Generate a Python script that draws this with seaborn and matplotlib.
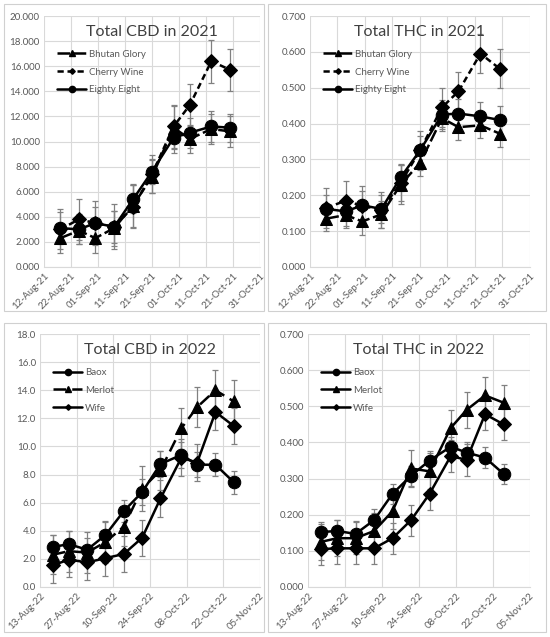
import numpy as np
import pandas as pd
import seaborn as sns
import matplotlib.pyplot as plt
import matplotlib.dates as mdates
from matplotlib.patches import Rectangle
from matplotlib.lines import Line2D

# ---- data ----
dates21 = ["2021-08-18", "2021-08-25", "2021-08-31", "2021-09-07", "2021-09-14",
           "2021-09-21", "2021-09-29", "2021-10-05", "2021-10-13", "2021-10-20"]
dates22 = ["2022-08-18", "2022-08-24", "2022-08-31", "2022-09-07", "2022-09-14",
           "2022-09-21", "2022-09-28", "2022-10-06", "2022-10-12", "2022-10-19",
           "2022-10-26"]

cbd21_bhutan = [2.3, 2.9, 2.3, 3.1, 4.9, 7.2, 11.1, 10.2, 11.0, 10.8]
cbd21_bhutan_sd = [1.2, 1.1, 1.2, 1.4, 1.7, 1.3, 1.7, 1.1, 1.2, 1.2]
cbd21_cherry = [3.0, 3.8, 3.5, 3.2, 4.8, 7.4, 11.2, 12.9, 16.4, 15.7]
cbd21_cherry_sd = [1.6, 1.65, 1.75, 1.8, 1.7, 1.5, 1.7, 1.7, 1.7, 1.7]
cbd21_eighty = [3.1, 3.0, 3.5, 3.2, 5.4, 7.6, 10.3, 10.7, 11.2, 11.1]
cbd21_eighty_sd = [1.3, 1.2, 1.3, 1.3, 1.1, 1.0, 1.2, 1.2, 1.2, 1.1]

thc21_bhutan = [0.135, 0.145, 0.127, 0.147, 0.23, 0.29, 0.415, 0.39, 0.395, 0.372]
thc21_bhutan_sd = [0.035, 0.035, 0.038, 0.038, 0.055, 0.035, 0.035, 0.037, 0.035, 0.037]
thc21_cherry = [0.165, 0.185, 0.17, 0.16, 0.235, 0.325, 0.445, 0.49, 0.595, 0.553]
thc21_cherry_sd = [0.055, 0.055, 0.055, 0.05, 0.05, 0.055, 0.055, 0.055, 0.055, 0.055]
thc21_eighty = [0.162, 0.155, 0.172, 0.162, 0.25, 0.325, 0.425, 0.428, 0.42, 0.41]
thc21_eighty_sd = [0.04, 0.04, 0.04, 0.04, 0.038, 0.04, 0.04, 0.04, 0.04, 0.04]

cbd22_baox = [2.85, 3.05, 2.65, 3.7, 5.4, 6.75, 8.75, 9.4, 8.7, 8.7, 7.45]
cbd22_baox_sd = [0.85, 0.9, 0.85, 0.9, 0.8, 0.9, 0.95, 0.9, 0.9, 0.8, 0.8]
cbd22_merlot = [2.3, 2.55, 2.45, 3.2, 4.3, 7.0, 8.3, 11.3, 12.8, 14.0, 13.2]
cbd22_merlot_sd = [1.4, 1.45, 1.45, 1.5, 1.4, 1.6, 1.4, 1.45, 1.45, 1.45, 1.5]
cbd22_wife = [1.55, 1.95, 1.75, 2.05, 2.35, 3.5, 6.3, 9.2, 8.85, 12.45, 11.45]
cbd22_wife_sd = [1.25, 1.25, 1.25, 1.25, 1.25, 1.3, 1.3, 1.3, 1.3, 1.3, 1.25]

thc22_baox = [0.152, 0.155, 0.147, 0.185, 0.258, 0.308, 0.35, 0.388, 0.372, 0.358, 0.313]
thc22_baox_sd = [0.028, 0.03, 0.035, 0.03, 0.028, 0.028, 0.027, 0.028, 0.028, 0.028, 0.028]
thc22_merlot = [0.125, 0.135, 0.135, 0.155, 0.21, 0.328, 0.32, 0.44, 0.49, 0.53, 0.51]
thc22_merlot_sd = [0.05, 0.05, 0.045, 0.05, 0.05, 0.05, 0.05, 0.05, 0.05, 0.05, 0.05]
thc22_wife = [0.105, 0.107, 0.107, 0.107, 0.135, 0.185, 0.258, 0.362, 0.352, 0.478, 0.45]
thc22_wife_sd = [0.043, 0.043, 0.043, 0.043, 0.043, 0.043, 0.045, 0.045, 0.045, 0.043, 0.043]

strains21 = ["Bhutan Glory", "Cherry Wine", "Eighty Eight"]
strains22 = ["Baox", "Merlot", "Wife"]


def make_df(dates, names, vals, sds):
    rows = []
    for n, v, s in zip(names, vals, sds):
        for d, y, e in zip(dates, v, s):
            rows.append({"date": pd.Timestamp(d), "strain": n, "value": y, "sd": e})
    return pd.DataFrame(rows)


df_cbd21 = make_df(dates21, strains21, [cbd21_bhutan, cbd21_cherry, cbd21_eighty],
                   [cbd21_bhutan_sd, cbd21_cherry_sd, cbd21_eighty_sd])
df_thc21 = make_df(dates21, strains21, [thc21_bhutan, thc21_cherry, thc21_eighty],
                   [thc21_bhutan_sd, thc21_cherry_sd, thc21_eighty_sd])
df_cbd22 = make_df(dates22, strains22, [cbd22_baox, cbd22_merlot, cbd22_wife],
                   [cbd22_baox_sd, cbd22_merlot_sd, cbd22_wife_sd])
df_thc22 = make_df(dates22, strains22, [thc22_baox, thc22_merlot, thc22_wife],
                   [thc22_baox_sd, thc22_merlot_sd, thc22_wife_sd])

sns.set_style("white")
plt.rcParams["font.family"] = ["Lato", "DejaVu Sans"]

grey_txt = "#595959"
grid_c = "#d9d9d9"

fig = plt.figure(figsize=(5.5, 6.37), dpi=100)

# panel frames (Excel chart areas)
for x0, y0, x1, y1 in [(4, 4, 264, 311), (268, 4, 546, 311),
                       (4, 323, 264, 632), (268, 323, 546, 632)]:
    fig.patches.append(Rectangle((x0 / 550, 1 - y1 / 637), (x1 - x0) / 550, (y1 - y0) / 637,
                                 transform=fig.transFigure, fill=False,
                                 edgecolor="#d0d0d0", linewidth=0.8))


def panel(rect, df, names, markers, dashes, small, title, ymax, ystep, yfmt,
          xstart, xend, xstep):
    ax = fig.add_axes(rect)
    sizes = {"o": 9, "^": 9, "D": 7.5}
    handles = []
    for n, m, d, sm in zip(names, markers, dashes, small):
        sub = df[df["strain"] == n]
        sns.lineplot(data=sub, x="date", y="value", color="black", marker=m,
                     markersize=sizes[m], markeredgecolor="black", linewidth=1.8,
                     dashes=d, ax=ax, errorbar=None, legend=False)
        ax.errorbar(sub["date"], sub["value"], yerr=sub["sd"], fmt="none",
                    ecolor="#808080", elinewidth=0.9, capsize=2.5, capthick=0.9, zorder=1)
        # legend key: Excel draws the key markers smaller than the plotted ones
        h = Line2D([], [], color="black", linewidth=1.8, marker=m,
                   markersize=2.8 if sm else 4.5, label=n)
        if d:
            h.set_dashes(d)
        handles.append(h)
    ax.set_ylim(0, ymax)
    ax.set_yticks(np.arange(0, ymax + ystep / 2, ystep))
    ax.yaxis.set_major_formatter(plt.FormatStrFormatter(yfmt))
    x0 = pd.Timestamp(xstart)
    x1 = pd.Timestamp(xend)
    ax.set_xlim(x0, x1)
    ax.set_xticks(pd.date_range(x0, x1, freq=f"{xstep}D"))
    ax.xaxis.set_major_formatter(mdates.DateFormatter("%d-%b-%y"))
    plt.setp(ax.get_xticklabels(), rotation=45, ha="right", rotation_mode="anchor")
    ax.tick_params(labelsize=7, colors=grey_txt, length=0, pad=3)
    ax.grid(True, color=grid_c, linewidth=0.8)
    ax.set_axisbelow(True)
    for s in ["top", "right", "left"]:
        ax.spines[s].set_visible(False)
    ax.spines["bottom"].set_color(grid_c)
    ax.set_xlabel("")
    ax.set_ylabel("")
    ax.text(0.5, 0.965, title, transform=ax.transAxes, ha="center", va="top",
            fontsize=11.5, color="#404040")
    ax.legend(handles=handles, loc="upper left", bbox_to_anchor=(0.02, 0.9),
              frameon=False, fontsize=7, labelcolor=grey_txt, handlelength=3.0,
              labelspacing=0.9, handletextpad=0.3)
    return ax


panel([44 / 550, 1 - 267 / 637, 216 / 550, 251 / 637], df_cbd21, strains21,
      ["^", "D", "o"], [(5, 1.5), (2.5, 1.5), ""], [False, True, False],
      "Total CBD in 2021", 20, 2, "%.3f", "2021-08-12", "2021-10-31", 10)
panel([310 / 550, 1 - 267 / 637, 220 / 550, 251 / 637], df_thc21, strains21,
      ["^", "D", "o"], [(5, 1.5), (2.5, 1.5), ""], [False, True, False],
      "Total THC in 2021", 0.7, 0.1, "%.3f", "2021-08-12", "2021-10-31", 10)
panel([40 / 550, 1 - 587 / 637, 220 / 550, 253 / 637], df_cbd22, strains22,
      ["o", "^", "D"], ["", (5, 2.5), ""], [False, False, True],
      "Total CBD in 2022", 18, 2, "%.1f", "2022-08-13", "2022-11-05", 14)
panel([308 / 550, 1 - 587 / 637, 222 / 550, 253 / 637], df_thc22, strains22,
      ["o", "^", "D"], ["", "", ""], [False, False, True],
      "Total THC in 2022", 0.7, 0.1, "%.3f", "2022-08-13", "2022-11-05", 14)

fig.savefig("out.png", dpi=100)
